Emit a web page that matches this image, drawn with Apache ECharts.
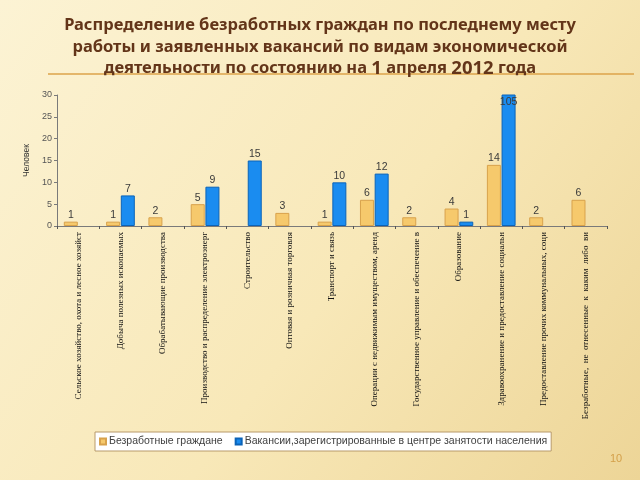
<!DOCTYPE html>
<html>
<head>
<meta charset="utf-8">
<script src="https://cdn.jsdelivr.net/npm/echarts@6/dist/echarts.min.js"></script>
<style>html,body{margin:0;padding:0;}#c{width:640px;height:480px;}</style>
</head>
<body>
<div id="c"></div>
<script>
var categories = [
  "Сельское хозяйство, охота и лесное хозяйст",
  "Добыча полезных ископаемых",
  "Обрабатывающие производства",
  "Производство и распределение электроэнерг",
  "Строительство",
  "Оптовая и розничная торговля",
  "Транспорт и связь",
  "Операции с недвижимым имуществом, аренд",
  "Государственное управление и обеспечение в",
  "Образование",
  "Здравоохранение и предоставление социальн",
  "Предоставление прочих коммунальных, соци",
  "Безработные,  не  отнесенные  к  каким  либо  ви"
];
var unemployed = [1, 1, 2, 5, 0, 3, 1, 6, 2, 4, 14, 2, 6];
var vacancies = [0, 7, 0, 9, 15, 0, 10, 12, 0, 1, 105, 0, 0];
var seriesNames = ["Безработные граждане", "Вакансии,зарегистрированные в центре занятости населения"];
var yMin = 0, yMax = 30, yStep = 5;

function prep(arr) {
  return arr.map(function (v) {
    if (v > yMax) return { value: v, label: { position: 'insideTop', distance: 2 } };
    if (v === 0) return { value: v, itemStyle: { opacity: 0, borderWidth: 0 } };
    return v;
  });
}
var labelCfg = {
  show: true, position: 'top', distance: 1, fontSize: 10.5, color: '#3a3a3a',
  fontFamily: 'Liberation Sans',
  formatter: function (p) { return p.value === 0 ? '' : String(p.value); }
};

var chart = echarts.init(document.getElementById('c'), null, { renderer: 'canvas' });
chart.setOption({
  animation: false,
  backgroundColor: new echarts.graphic.LinearGradient(0, 0, 1, 1, [
    { offset: 0, color: '#FCF3D4' },
    { offset: 0.55, color: '#F8E8B8' },
    { offset: 1, color: '#EDD597' }
  ]),
  title: {
    text: 'Распределение безработных граждан по последнему месту\nработы и заявленных вакансий по видам экономической\nдеятельности по состоянию на {n|1} апреля {n|2012} года',
    left: 'center', top: 10,
    textStyle: {
      fontFamily: 'Noto Sans', fontSize: 16.5, fontWeight: 'bold', color: '#633519',
      lineHeight: 21.5, align: 'center',
      rich: { n: { fontFamily: 'Noto Sans', fontSize: 18.5, fontWeight: 'bold', color: '#633519', lineHeight: 21.5 } }
    }
  },
  graphic: [
    { type: 'line', shape: { x1: 48, y1: 74, x2: 634, y2: 74 }, style: { stroke: '#DDA34A', lineWidth: 1.5 } },
    { type: 'text', left: 610, top: 453, style: { text: '10', fontSize: 11, fill: '#D4A04A', fontFamily: 'Liberation Sans' } }
  ],
  legend: {
    data: seriesNames,
    left: 95, top: 432,
    padding: [4, 4, 4, 4],
    itemGap: 12, itemWidth: 6, itemHeight: 6,
    icon: 'rect',
    backgroundColor: '#FFFFFF',
    borderColor: '#B89A6A', borderWidth: 1,
    textStyle: { fontSize: 10.5, color: '#404040', fontFamily: 'Liberation Sans', padding: [0, 0, 0, -2] }
  },
  grid: { left: 57, right: 33, top: 95, bottom: 254, containLabel: false },
  xAxis: {
    type: 'category',
    data: categories,
    axisLine: { lineStyle: { color: '#7a7a7a', width: 1 } },
    axisTick: { show: true, length: 3, lineStyle: { color: '#555' } },
    axisLabel: {
      rotate: 90, interval: 0, fontSize: 9, color: '#111',
      fontFamily: 'Liberation Serif', margin: 6
    }
  },
  yAxis: {
    type: 'value', min: yMin, max: yMax, interval: yStep,
    name: 'Человек', nameLocation: 'middle', nameGap: 26, nameRotate: 90,
    nameTextStyle: { fontSize: 8.5, color: '#333', fontFamily: 'Liberation Sans' },
    axisLine: { show: true, lineStyle: { color: '#7a7a7a' } },
    axisTick: { show: true, length: 3, lineStyle: { color: '#7a7a7a' } },
    axisLabel: { fontSize: 9, color: '#555', fontFamily: 'Liberation Sans', margin: 5 },
    splitLine: { show: false }
  },
  series: [
    {
      name: seriesNames[0], type: 'bar', data: prep(unemployed),
      barWidth: 14, barGap: '5%', clip: true,
      itemStyle: { color: '#F6C96C', borderColor: '#D8A24C', borderWidth: 1 },
      label: labelCfg
    },
    {
      name: seriesNames[1], type: 'bar', data: prep(vacancies),
      barWidth: 14, clip: true,
      itemStyle: { color: '#1A8CF0', borderColor: '#0B63B8', borderWidth: 1 },
      label: labelCfg
    }
  ]
});
</script>
</body>
</html>
